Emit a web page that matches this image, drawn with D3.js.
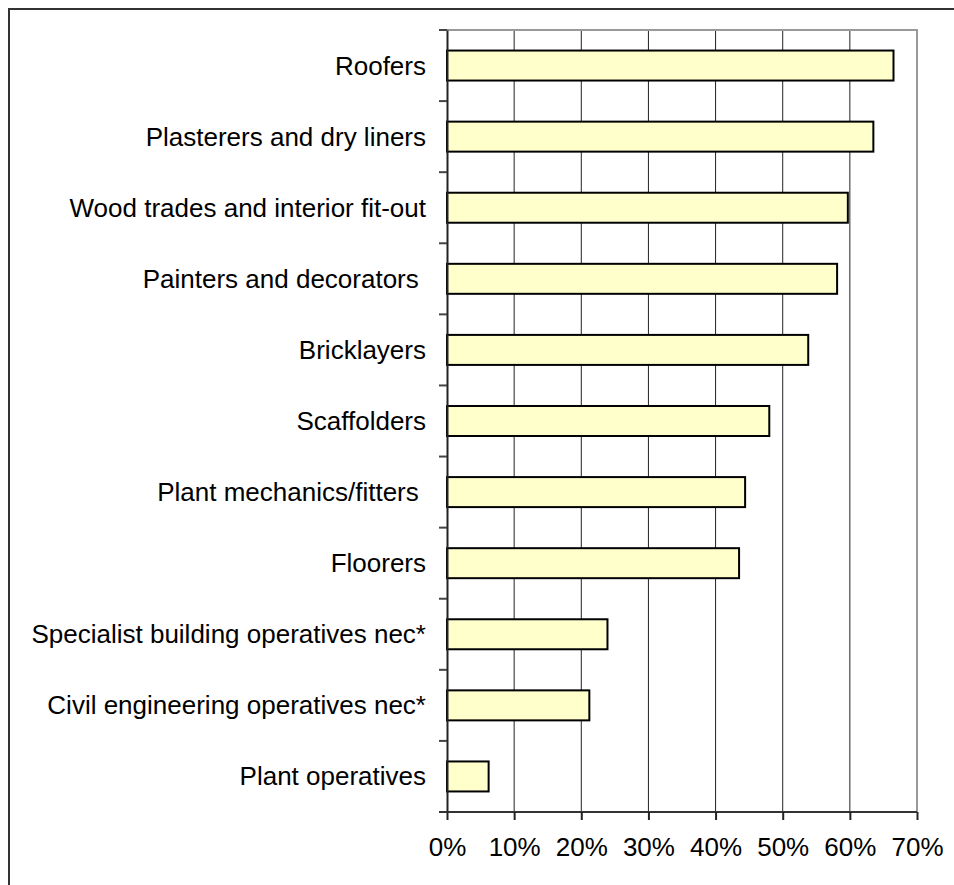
<!DOCTYPE html>
<html><head><meta charset="utf-8">
<script src="https://cdn.jsdelivr.net/npm/d3@7/dist/d3.min.js"></script>
<style>body{margin:0;background:#fff}svg{display:block}</style>
</head><body>
<script>
const categories = ["Roofers","Plasterers and dry liners","Wood trades and interior fit-out","Painters and decorators ","Bricklayers","Scaffolders","Plant mechanics/fitters ","Floorers","Specialist building operatives nec*","Civil engineering operatives nec*","Plant operatives"];
const values = [66.5,63.5,59.7,58.1,53.8,48.0,44.4,43.5,23.9,21.2,6.2];
const xTicks = [0,10,20,30,40,50,60,70];

const W=954,H=885;
const L=447,R=917,T=30,B=812;
const FONT="Liberation Sans, Arial, sans-serif";
const svg=d3.select("body").append("svg").attr("width",W).attr("height",H);
svg.append("rect").attr("x",9).attr("y",9).attr("width",W+20).attr("height",H+20)
  .attr("fill","none").attr("stroke","#333").attr("stroke-width",2);

const x=d3.scaleLinear().domain([0,70]).range([L,R]);
const yb=d3.scaleBand().domain(categories).range([T,B]);

// gridlines
svg.append("g").selectAll("line").data(xTicks.slice(1,-1)).join("line")
  .attr("x1",d=>x(d)).attr("x2",d=>x(d)).attr("y1",T).attr("y2",B)
  .attr("stroke","#222").attr("stroke-width",1);
// plot border top/right
svg.append("path").attr("d",`M${L},${T}H${R}V${B}`).attr("fill","none").attr("stroke","#999").attr("stroke-width",2);

// bars
svg.append("g").selectAll("rect").data(categories).join("rect")
  .attr("x",x(0)).attr("y",d=>yb(d)+yb.bandwidth()/2-15)
  .attr("width",(d,i)=>x(values[i])-x(0)).attr("height",30)
  .attr("fill","#FFFFCC").attr("stroke","#000").attr("stroke-width",2);

// y axis
const gy=svg.append("g").attr("transform",`translate(${L},0)`).call(d3.axisLeft(yb).tickSize(0).tickFormat(""));
gy.select(".domain").attr("stroke","#222").attr("stroke-width",2);
const bounds=d3.range(categories.length+1).map(i=>T+i*yb.step());
svg.append("g").selectAll("line").data(bounds).join("line")
  .attr("x1",L-8).attr("x2",L).attr("y1",d=>d).attr("y2",d=>d)
  .attr("stroke","#444").attr("stroke-width",2);
svg.append("g").selectAll("text").data(categories).join("text")
  .attr("x",426).attr("y",d=>yb(d)+yb.bandwidth()/2)
  .attr("text-anchor","end").attr("dominant-baseline","central")
  .attr("font-family",FONT).attr("font-size",26)
  .attr("fill","#000").style("white-space","pre").text(d=>d);

// x axis
const xAxis=d3.axisBottom(x).tickValues(xTicks).tickSize(8).tickSizeOuter(0).tickPadding(18).tickFormat(d=>d+"%");
const gx=svg.append("g").attr("transform",`translate(0,${B})`).call(xAxis);
gx.select(".domain").attr("stroke","#333").attr("stroke-width",2).attr("d",`M${L-8},0H${R}`);
gx.selectAll(".tick line").attr("stroke","#222").attr("stroke-width",2);
gx.selectAll(".tick text").attr("font-family",FONT).attr("font-size",26).attr("fill","#000");
</script>
</body></html>
